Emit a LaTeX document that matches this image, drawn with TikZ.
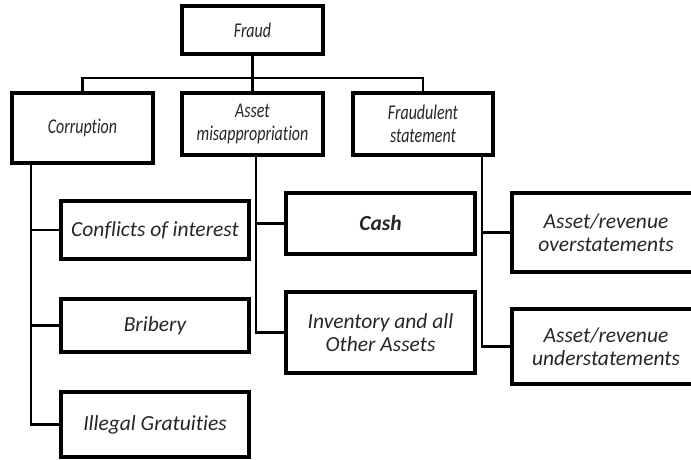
\documentclass[tikz,border=0pt]{standalone}
\usepackage{fontspec}
\setmainfont{Carlito}[Ligatures=NoCommon]
\newfontfamily\headfont{Carlito}[Ligatures=NoCommon, FakeStretch=0.76]
\usepackage{tikz}
\usetikzlibrary{positioning}

\begin{document}
\begin{tikzpicture}[x=1pt, y=-1pt,
    box/.style={draw, line width=3.4pt, align=center, inner sep=2pt, text=black!85,
        font=\fontsize{21.5}{23}\selectfont\itshape},
    topbox/.style={box, font=\headfont\fontsize{21}{23}\selectfont\itshape},
    link/.style={line width=2.2pt}]

% Canvas
\clip (0, 0) rectangle (691, 459);

% Top level
\node[topbox, minimum width=141, minimum height=48] (fraud) at (252.5, 30) {Fraud};

% Main branches
\node[topbox, minimum width=141, minimum height=70] (corr) at (82.5, 128) {Corruption};
\node[topbox, minimum width=141, minimum height=62] (asset) at (252.5, 124) {Asset\\misappropriation};
\node[topbox, minimum width=140, minimum height=62] (fstmt) at (423, 124) {Fraudulent\\statement};

% Corruption schemes
\node[box, minimum width=188, minimum height=58] (coi) at (155, 230) {Conflicts of interest};
\node[box, minimum width=188, minimum height=53] (brib) at (155, 325.5) {Bribery};
\node[box, minimum width=188, minimum height=65] (illeg) at (155, 424.5) {Illegal Gratuities};

% Asset misappropriation schemes
\node[box, minimum width=189, minimum height=61] (cash) at (380.5, 223.5) {\bfseries Cash};
\node[box, minimum width=189, minimum height=81] (inv) at (380.5, 332.5) {Inventory and all\\Other Assets};

% Fraudulent statement schemes
\node[box, minimum width=188, minimum height=79] (over) at (606, 232.5) {Asset/revenue\\overstatements};
\node[box, minimum width=188, minimum height=75] (under) at (606, 346.5) {Asset/revenue\\understatements};

% Bus from the top box
\draw[link] (fraud.south) -- (asset.north);
\draw[link] (fraud.south) ++(0, 22) coordinate (bus) -| (corr.north);
\draw[link] (bus) -| (fstmt.north);

% Side stems
\foreach \k in {coi, brib, illeg} {
    \draw[link] ([xshift=21]corr.south west) |- (\k.west);
}
\foreach \k in {cash, inv} {
    \draw[link] ([xshift=76]asset.south west) |- (\k.west);
}
\foreach \k in {over, under} {
    \draw[link] ([xshift=131]fstmt.south west) |- (\k.west);
}

\end{tikzpicture}
\end{document}
